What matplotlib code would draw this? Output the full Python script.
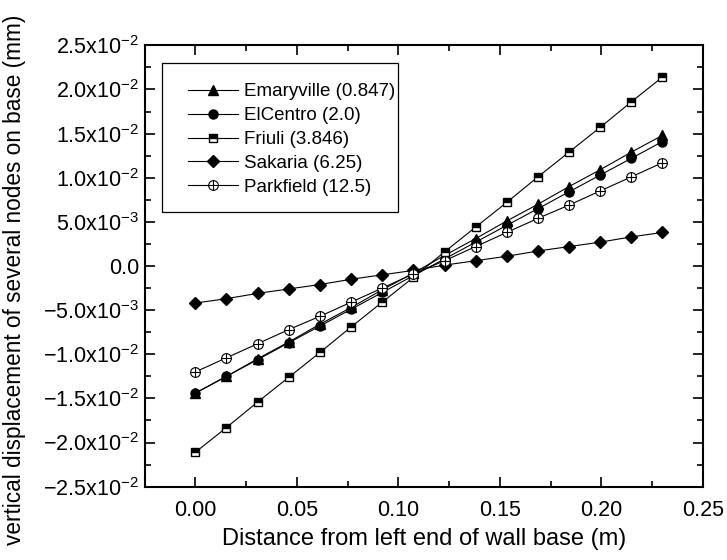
import numpy as np
import matplotlib
matplotlib.use("Agg")
import matplotlib.pyplot as plt
from matplotlib.path import Path
from matplotlib.patches import Rectangle
from matplotlib.ticker import MultipleLocator, FuncFormatter

plt.rcParams["font.family"] = ["Liberation Sans", "DejaVu Sans"]
plt.rcParams["mathtext.fontset"] = "custom"
plt.rcParams["mathtext.rm"] = "Liberation Sans"

# Data
x = [0.0, 0.0153, 0.0307, 0.046, 0.0613, 0.0767, 0.092, 0.1073,
     0.1227, 0.138, 0.1533, 0.1687, 0.184, 0.1993, 0.2147, 0.23]

emaryville = [-0.0144, -0.0125, -0.0105, -0.0086, -0.0066, -0.0047, -0.0027, -0.0008,
              0.0012, 0.0031, 0.0051, 0.0070, 0.0090, 0.0109, 0.0129, 0.0148]
elcentro = [-0.0144, -0.0125, -0.0106, -0.0087, -0.0068, -0.0049, -0.0030, -0.0011,
            0.0008, 0.0027, 0.0046, 0.0065, 0.0084, 0.0103, 0.0122, 0.0141]
friuli = [-0.0211, -0.0183, -0.0154, -0.0126, -0.0098, -0.0069, -0.0041, -0.0013,
          0.0016, 0.0044, 0.0072, 0.0101, 0.0129, 0.0157, 0.0186, 0.0214]
sakaria = [-0.0042, -0.0037, -0.0031, -0.0026, -0.0021, -0.0015, -0.0010, -0.0005,
           0.0001, 0.0006, 0.0011, 0.0017, 0.0022, 0.0027, 0.0033, 0.0038]
parkfield = [-0.0120, -0.0104, -0.0088, -0.0072, -0.0057, -0.0041, -0.0025, -0.0009,
             0.0006, 0.0022, 0.0038, 0.0054, 0.0069, 0.0085, 0.0101, 0.0117]

labels = ["Emaryville (0.847)", "ElCentro (2.0)", "Friuli (3.846)",
          "Sakaria (6.25)", "Parkfield (12.5)"]

# circle with a cross inside
oplus = Path.make_compound_path(
    Path.unit_circle(),
    Path([(-1, 0), (1, 0)], [Path.MOVETO, Path.LINETO]),
    Path([(0, -1), (0, 1)], [Path.MOVETO, Path.LINETO]),
)

fig = plt.figure(figsize=(7.27, 5.6), dpi=100)
ax = fig.add_axes([0.199, 0.131, 0.768, 0.788])

lw = 0.8
ax.plot(x, emaryville, color="black", lw=lw, marker="^", ms=7, label=labels[0])
ax.plot(x, elcentro, color="black", lw=lw, marker="o", ms=6.5, label=labels[1])
ax.plot(x, friuli, color="black", lw=lw, marker="s", ms=6, mew=1,
        fillstyle="top", markerfacecoloralt="white", label=labels[2])
ax.plot(x, sakaria, color="black", lw=lw, marker="D", ms=6.5, label=labels[3])
ax.plot(x, parkfield, color="black", lw=lw, marker=oplus, ms=7, mew=0.8,
        markerfacecolor="white", label=labels[4])

ax.set_xlim(-0.025, 0.25)
ax.set_ylim(-0.025, 0.025)

ax.xaxis.set_major_locator(MultipleLocator(0.05))
ax.xaxis.set_minor_locator(MultipleLocator(0.025))
ax.yaxis.set_major_locator(MultipleLocator(0.005))
ax.yaxis.set_minor_locator(MultipleLocator(0.0025))


def yfmt(v, pos):
    if abs(v) < 1e-12:
        return "0.0"
    e = int(np.floor(np.log10(abs(v)) + 1e-9))
    m = v / 10 ** e
    return r"$\mathregular{%.1fx10^{%d}}$" % (m, e)


ax.xaxis.set_major_formatter(FuncFormatter(lambda v, p: "%.2f" % v))
ax.yaxis.set_major_formatter(FuncFormatter(yfmt))

ax.tick_params(which="both", direction="in", top=True, right=True, labelsize=15.5,
               width=1.2)
ax.tick_params(which="major", length=7)
ax.tick_params(axis="x", which="major", pad=9.5)
ax.tick_params(axis="y", which="major", pad=4)
ax.tick_params(which="minor", length=4)
for s in ax.spines.values():
    s.set_linewidth(1.5)

ax.set_xlabel("Distance from left end of wall base (m)", fontsize=17, labelpad=5)
ax.set_ylabel("vertical displacement of several nodes on base (mm)", fontsize=16.3)
ax.yaxis.set_label_coords(-0.212, 0.468)

# legend frame drawn separately so the padding can differ per side
ax.add_patch(Rectangle((0.0314, 0.622), 0.4226, 0.338, transform=ax.transAxes,
                       facecolor="white", edgecolor="black", lw=0.9, zorder=4))
leg = ax.legend(loc="upper left", bbox_to_anchor=(0.078, 0.914), borderaxespad=0,
                borderpad=0, fontsize=13.5, frameon=False, handlelength=2.67,
                handletextpad=0.32, labelspacing=0.36)
leg.set_zorder(5)

fig.savefig("out.png", dpi=100)
